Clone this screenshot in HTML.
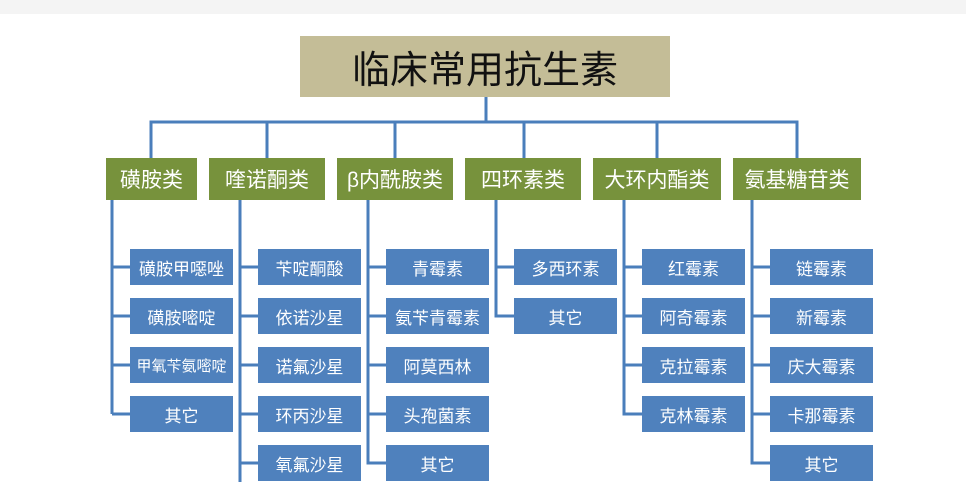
<!DOCTYPE html>
<html><head><meta charset="utf-8"><style>
body{margin:0;width:966px;height:482px;overflow:hidden;background:#fff;font-family:"Liberation Sans","Noto Sans CJK SC",sans-serif}
.b{position:absolute;color:#fff;display:flex;align-items:center;justify-content:center;white-space:nowrap}
.c{background:#77923c;font-size:21px;top:158px;height:42px}
.k{background:#4f81bd;font-size:17px;height:36px;width:103px}
</style></head><body>
<div style="position:absolute;left:0;top:0;width:966px;height:14px;background:#f4f4f4"></div>
<svg style="position:absolute;left:0;top:0" width="966" height="482">
<g stroke="#4a7ebb" stroke-width="3" fill="none">
<path d="M486 97V122M151 158V122H797V158M267 122V158M395 122V158M524 122V158M657 122V158"/>
<path d="M112 200V414M112 267H130M112 316H130M112 365H130M112 414H130"/>
<path d="M240 200V482M240 267H258M240 316H258M240 365H258M240 414H258M240 463H258"/>
<path d="M368 200V463H386M368 267H386M368 316H386M368 365H386M368 414H386"/>
<path d="M496 200V316H514M496 267H514"/>
<path d="M624 200V414H642M624 267H642M624 316H642M624 365H642"/>
<path d="M752 200V463H770M752 267H770M752 316H770M752 365H770M752 414H770"/>
</g></svg>
<div class="b" style="left:300px;top:36px;width:370px;height:61px;background:#c4bd97;color:#111;font-size:38px">临床常用抗生素</div>
<div class="b c" style="left:106px;width:91px">磺胺类</div>
<div class="b c" style="left:209px;width:116px">喹诺酮类</div>
<div class="b c" style="left:337px;width:116px">β内酰胺类</div>
<div class="b c" style="left:465px;width:116px">四环素类</div>
<div class="b c" style="left:593px;width:128px">大环内酯类</div>
<div class="b c" style="left:733px;width:128px">氨基糖苷类</div>

<div class="b k" style="left:130px;top:249px">磺胺甲噁唑</div>
<div class="b k" style="left:130px;top:298px">磺胺嘧啶</div>
<div class="b k" style="left:130px;top:347px;font-size:15px">甲氧苄氨嘧啶</div>
<div class="b k" style="left:130px;top:396px">其它</div>

<div class="b k" style="left:258px;top:249px">苄啶酮酸</div>
<div class="b k" style="left:258px;top:298px">依诺沙星</div>
<div class="b k" style="left:258px;top:347px">诺氟沙星</div>
<div class="b k" style="left:258px;top:396px">环丙沙星</div>
<div class="b k" style="left:258px;top:445px">氧氟沙星</div>

<div class="b k" style="left:386px;top:249px">青霉素</div>
<div class="b k" style="left:386px;top:298px">氨苄青霉素</div>
<div class="b k" style="left:386px;top:347px">阿莫西林</div>
<div class="b k" style="left:386px;top:396px">头孢菌素</div>
<div class="b k" style="left:386px;top:445px">其它</div>

<div class="b k" style="left:514px;top:249px">多西环素</div>
<div class="b k" style="left:514px;top:298px">其它</div>

<div class="b k" style="left:642px;top:249px">红霉素</div>
<div class="b k" style="left:642px;top:298px">阿奇霉素</div>
<div class="b k" style="left:642px;top:347px">克拉霉素</div>
<div class="b k" style="left:642px;top:396px">克林霉素</div>

<div class="b k" style="left:770px;top:249px">链霉素</div>
<div class="b k" style="left:770px;top:298px">新霉素</div>
<div class="b k" style="left:770px;top:347px">庆大霉素</div>
<div class="b k" style="left:770px;top:396px">卡那霉素</div>
<div class="b k" style="left:770px;top:445px">其它</div>
</body></html>
